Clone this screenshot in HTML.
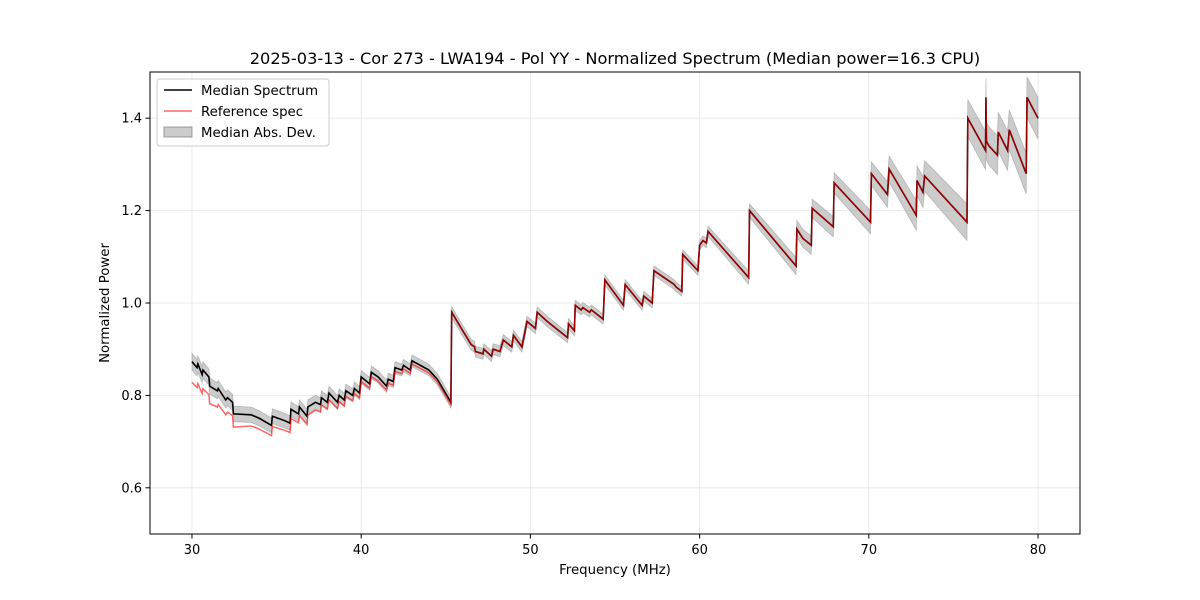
<!DOCTYPE html>
<html><head><meta charset="utf-8"><style>
body{margin:0;background:#fff;}
svg{display:block;font-family:"DejaVu Sans","Liberation Sans",sans-serif;}
</style></head><body>
<svg id="chart" width="1200" height="600">
<rect width="1200" height="600" fill="#fff"/>
<text x="615" y="64" text-anchor="middle" font-size="16.2">2025-03-13 - Cor 273 - LWA194 - Pol YY - Normalized Spectrum (Median power=16.3 CPU)</text>
<g id="grid"></g>
<g id="plot"></g>
<rect x="150" y="72" width="930" height="462" fill="none" stroke="#000" stroke-width="1"/>
<g id="axes"></g>
<text x="615" y="574" text-anchor="middle" font-size="13.3">Frequency (MHz)</text>
<text x="0" y="0" transform="translate(109,303) rotate(-90)" text-anchor="middle" font-size="13.3">Normalized Power</text>
<g>
<rect x="157" y="79" width="172" height="67" rx="3" fill="#fff" fill-opacity="0.8" stroke="#ccc"/>
<line x1="164" y1="90" x2="192" y2="90" stroke="#000" stroke-width="1.5"/>
<text x="201" y="95" font-size="13.3">Median Spectrum</text>
<line x1="164" y1="111" x2="192" y2="111" stroke="red" stroke-opacity="0.6" stroke-width="1.5"/>
<text x="201" y="116" font-size="13.3">Reference spec</text>
<rect x="164" y="127" width="28" height="10" fill="#999" fill-opacity="0.5" stroke="#888" stroke-width="0.8"/>
<text x="201" y="137" font-size="13.3">Median Abs. Dev.</text>
</g>
</svg>
<script>
const freqs=[30.0,30.3,30.35,30.6,30.65,31.0,31.05,31.5,31.55,32.0,32.1,32.4,32.45,33.5,34.0,34.7,34.75,35.5,35.8,35.85,36.3,36.35,36.8,36.85,37.3,37.6,37.65,38.0,38.1,38.6,38.7,39.0,39.1,39.5,39.6,39.9,40.0,40.5,40.6,41.0,41.5,41.6,41.9,42.0,42.4,42.5,42.9,43.0,43.5,44.0,44.5,45.3,45.35,46.0,46.5,46.7,46.75,47.2,47.25,47.7,47.8,48.2,48.4,48.9,49.0,49.5,49.8,50.3,50.4,51.0,52.2,52.25,52.6,52.65,53.0,53.1,53.5,53.6,54.3,54.4,55.5,55.6,56.6,56.7,57.2,57.3,58.3,58.5,58.6,58.95,59.0,59.9,60.0,60.2,60.4,60.5,62.9,62.95,65.7,65.75,66.1,66.6,66.65,67.9,67.95,70.1,70.15,71.1,71.2,72.8,72.85,73.2,73.3,75.8,75.85,76.9,76.92,76.95,77.1,77.6,77.65,78.2,78.3,79.3,79.35,80.0];
const medianVals=[0.873,0.86,0.868,0.845,0.855,0.84,0.82,0.81,0.815,0.79,0.795,0.785,0.76,0.758,0.75,0.735,0.755,0.745,0.74,0.77,0.76,0.775,0.755,0.775,0.785,0.78,0.795,0.785,0.805,0.785,0.8,0.79,0.81,0.8,0.815,0.805,0.84,0.825,0.85,0.84,0.82,0.835,0.83,0.86,0.855,0.865,0.855,0.875,0.865,0.855,0.835,0.785,0.98,0.94,0.91,0.905,0.895,0.89,0.9,0.885,0.9,0.895,0.92,0.905,0.93,0.905,0.96,0.945,0.98,0.96,0.925,0.955,0.94,0.995,0.985,0.99,0.98,0.985,0.965,1.05,0.995,1.04,0.995,1.015,1.0,1.07,1.045,1.04,1.035,1.025,1.105,1.07,1.125,1.135,1.13,1.155,1.055,1.2,1.08,1.16,1.14,1.125,1.205,1.165,1.26,1.175,1.28,1.235,1.29,1.19,1.265,1.24,1.275,1.175,1.4,1.33,1.445,1.35,1.34,1.32,1.37,1.33,1.375,1.28,1.445,1.4];
const refOffsetF=[30,33,36,40,45.3,45.35,80];
const refOffsetV=[-0.045,-0.025,-0.02,-0.01,-0.005,0,0];
const madF=[30,45,60,70,76,80];
const madV=[0.018,0.012,0.01,0.025,0.04,0.045];
const xTicks=[30,40,50,60,70,80];
const yTicks=[0.6,0.8,1.0,1.2,1.4];
const yTickLabels=["0.6","0.8","1.0","1.2","1.4"];

const X=f=>150+(f-27.52)/(82.48-27.52)*930;
const Y=v=>534-(v-0.5)/(1.0)*462;
function interp(fs,vs,f){for(let i=1;i<fs.length;i++){if(f<=fs[i]){const t=(f-fs[i-1])/(fs[i]-fs[i-1]);return vs[i-1]+t*(vs[i]-vs[i-1]);}}return vs[vs.length-1];}
const NS='http://www.w3.org/2000/svg';
function mk(tag,attrs,parent){const e=document.createElementNS(NS,tag);for(const k in attrs)e.setAttribute(k,attrs[k]);parent.appendChild(e);return e;}
const grid=document.getElementById('grid'),plot=document.getElementById('plot'),axes=document.getElementById('axes');
xTicks.forEach(t=>{
 const g=mk('line',{x1:X(t),x2:X(t),y1:72,y2:534,stroke:'#e6e6e6','stroke-width':0.8},grid);
 
 
 const tk=mk('line',{x1:X(t),x2:X(t),y1:534,y2:538.5,stroke:'#000'},axes);
 
 
 const tx=mk('text',{x:X(t),y:554,'text-anchor':'middle','font-size':13},axes);
 tx.textContent=String(t);
 
 
});
yTicks.forEach((t,i)=>{
 const g=mk('line',{x1:150,x2:1080,y1:Y(t),y2:Y(t),stroke:'#e6e6e6','stroke-width':0.8},grid);
 
 
 const tk=mk('line',{x1:145.5,x2:150,y1:Y(t),y2:Y(t),stroke:'#000'},axes);
 
 
 const tx=mk('text',{x:142,y:Y(t)+4.5,'text-anchor':'end','font-size':13},axes);
 tx.textContent=yTickLabels[i];
 
 
});
let up=[],dn=[];
freqs.forEach((f,i)=>{const m=interp(madF,madV,f);up.push(X(f)+','+Y(medianVals[i]+m));dn.push(X(f)+','+Y(medianVals[i]-m));});
const band=mk('polygon',{points:up.concat(dn.reverse()).join(' '),fill:'#999','fill-opacity':0.5,stroke:'#999','stroke-opacity':0.6,'stroke-width':0.8},plot);


const med=mk('polyline',{points:freqs.map((f,i)=>X(f)+','+Y(medianVals[i])).join(' '),fill:'none',stroke:'#000','stroke-width':1.6},plot);


const ref=mk('polyline',{points:freqs.map((f,i)=>X(f)+','+Y(medianVals[i]+interp(refOffsetF,refOffsetV,f))).join(' '),fill:'none',stroke:'red','stroke-opacity':0.6,'stroke-width':1.5},plot);


</script>
</body></html>
